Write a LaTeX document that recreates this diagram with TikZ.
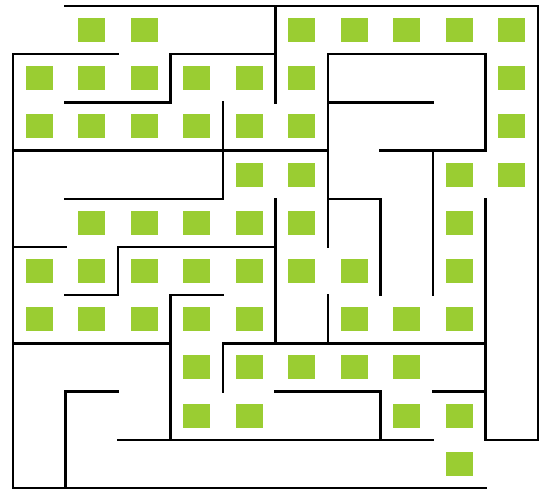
\documentclass[tikz,border=0pt]{standalone}
\usepackage{tikz}
\definecolor{mazegreen}{RGB}{154,205,50}

\begin{document}
\begin{tikzpicture}
 [x=1.05cm, y=-0.964cm,
  wall/.style={line width=1.3pt, black, line cap=rect},
  cell node/.style={rectangle, fill=mazegreen, minimum width=0.54cm, minimum height=0.48cm, inner sep=0pt}]

\useasboundingbox (-0.248,-0.124) rectangle (10.19,10.02);

% green cells, column/row
\foreach \c/\r in {1/0,2/0,5/0,6/0,7/0,8/0,9/0,
  0/1,1/1,2/1,3/1,4/1,5/1,9/1,
  0/2,1/2,2/2,3/2,4/2,5/2,9/2,
  4/3,5/3,8/3,9/3,
  1/4,2/4,3/4,4/4,5/4,8/4,
  0/5,1/5,2/5,3/5,4/5,5/5,6/5,8/5,
  0/6,1/6,2/6,3/6,4/6,6/6,7/6,8/6,
  3/7,4/7,5/7,6/7,7/7,
  3/8,4/8,7/8,8/8,
  8/9}
  \node[cell node] (c\c-\r) at (\c+0.5,\r+0.5) {};

% outer walls
\draw[wall] (1,0) -- (10,0) -- (10,9) -- (9,9) -- (9,4);
\draw[wall] (2,1) -- (0,1) -- (0,10) -- (9,10);

% inner walls
\draw[wall] (5,0) -- (5,2);
\draw[wall] (5,1) -- (3,1) -- (3,2) -- (1,2);
\draw[wall] (4,2) -- (4,4) -- (1,4);
\draw[wall] (0,3) -- (6,3);
\draw[wall] (7,3) -- (9,3) -- (9,1) -- (6,1) -- (6,5);
\draw[wall] (6,2) -- (8,2);
\draw[wall] (8,3) -- (8,6);
\draw[wall] (6,4) -- (7,4) -- (7,6);
\draw[wall] (5,4) -- (5,7);
\draw[wall] (0,5) -- (1,5);
\draw[wall] (5,5) -- (2,5) -- (2,6) -- (1,6);
\draw[wall] (4,6) -- (3,6) -- (3,9);
\draw[wall] (0,7) -- (3,7);
\draw[wall] (4,8) -- (4,7) -- (9,7);
\draw[wall] (6,6) -- (6,7);
\draw[wall] (2,8) -- (1,8) -- (1,10);
\draw[wall] (2,9) -- (8,9);
\draw[wall] (5,8) -- (7,8) -- (7,9);
\draw[wall] (8,8) -- (9,8);

\end{tikzpicture}
\end{document}
